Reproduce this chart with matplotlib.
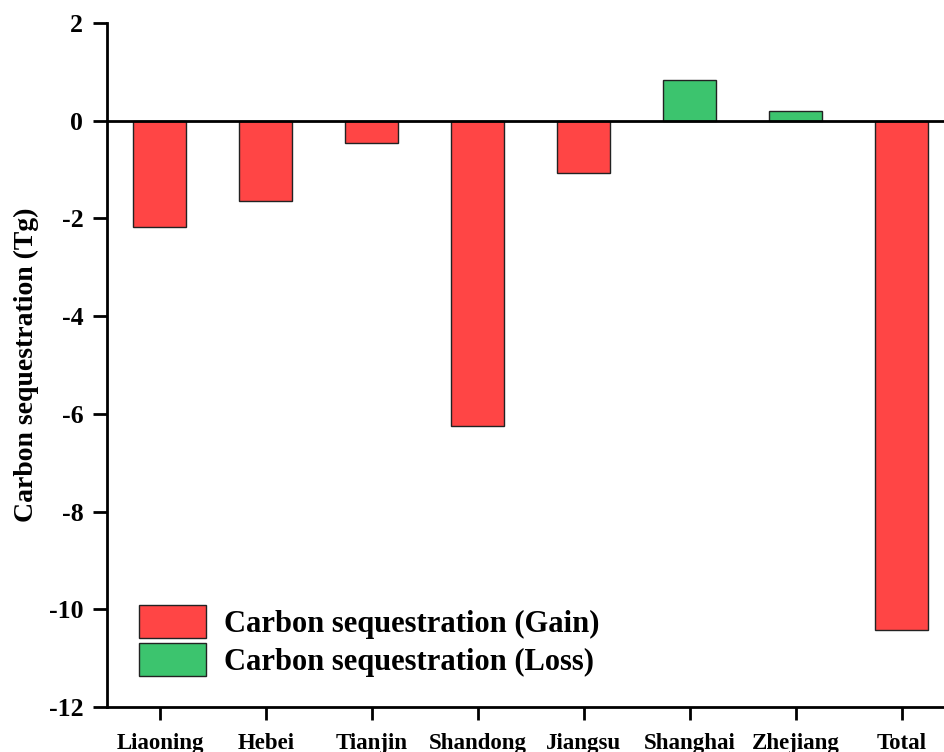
import matplotlib.pyplot as plt
from matplotlib.patches import Patch

regions = ["Liaoning", "Hebei", "Tianjin", "Shandong", "Jiangsu", "Shanghai", "Zhejiang", "Total"]
carbon = [-2.17, -1.64, -0.45, -6.24, -1.06, 0.84, 0.20, -10.43]
yticks = [2, 0, -2, -4, -6, -8, -10, -12]

gain_color = "#FF4545"
loss_color = "#3CC46E"

plt.rcParams["font.family"] = ["Liberation Serif", "DejaVu Serif"]
plt.rcParams["font.weight"] = "bold"

fig = plt.figure(figsize=(9.45, 7.52), dpi=100)
ax = fig.add_axes([0.1132, 0.0598, 0.897, 0.9096])

x = list(range(len(regions)))
colors = [gain_color if v < 0 else loss_color for v in carbon]
ax.bar(x, carbon, width=0.5, color=colors, edgecolor="#222222", linewidth=1.0, zorder=2)
ax.axhline(0, color="black", linewidth=2, zorder=3)

ax.set_xlim(-0.5, 7.5)
ax.set_ylim(-12, 2)
ax.set_yticks(yticks)
ax.set_yticklabels([str(t) for t in yticks])
ax.set_xticks(x)
ax.set_xticklabels(regions)

for side in ("top", "right"):
    ax.spines[side].set_visible(False)
for side in ("left", "bottom"):
    ax.spines[side].set_linewidth(2)

ax.tick_params(axis="y", direction="out", length=10, width=2, pad=7, labelsize=18.5)
ax.tick_params(axis="x", direction="out", length=9.5, width=2, pad=9, labelsize=16.5)
for lab in ax.get_xticklabels() + ax.get_yticklabels():
    lab.set_fontweight("bold")

ax.set_ylabel("Carbon sequestration (Tg)", fontsize=20, fontweight="bold", labelpad=7)

handles = [Patch(facecolor=gain_color, edgecolor="#222222", linewidth=1.0),
           Patch(facecolor=loss_color, edgecolor="#222222", linewidth=1.0)]
ax.legend(handles, ["Carbon sequestration (Gain)", "Carbon sequestration (Loss)"],
          loc="lower left", bbox_to_anchor=(0.023, 0.026), frameon=False,
          prop={"size": 22, "weight": "bold"}, handlelength=2.2, handleheight=1.3,
          handletextpad=0.6, labelspacing=0.15, borderaxespad=0)

fig.savefig("out.png", dpi=100)
